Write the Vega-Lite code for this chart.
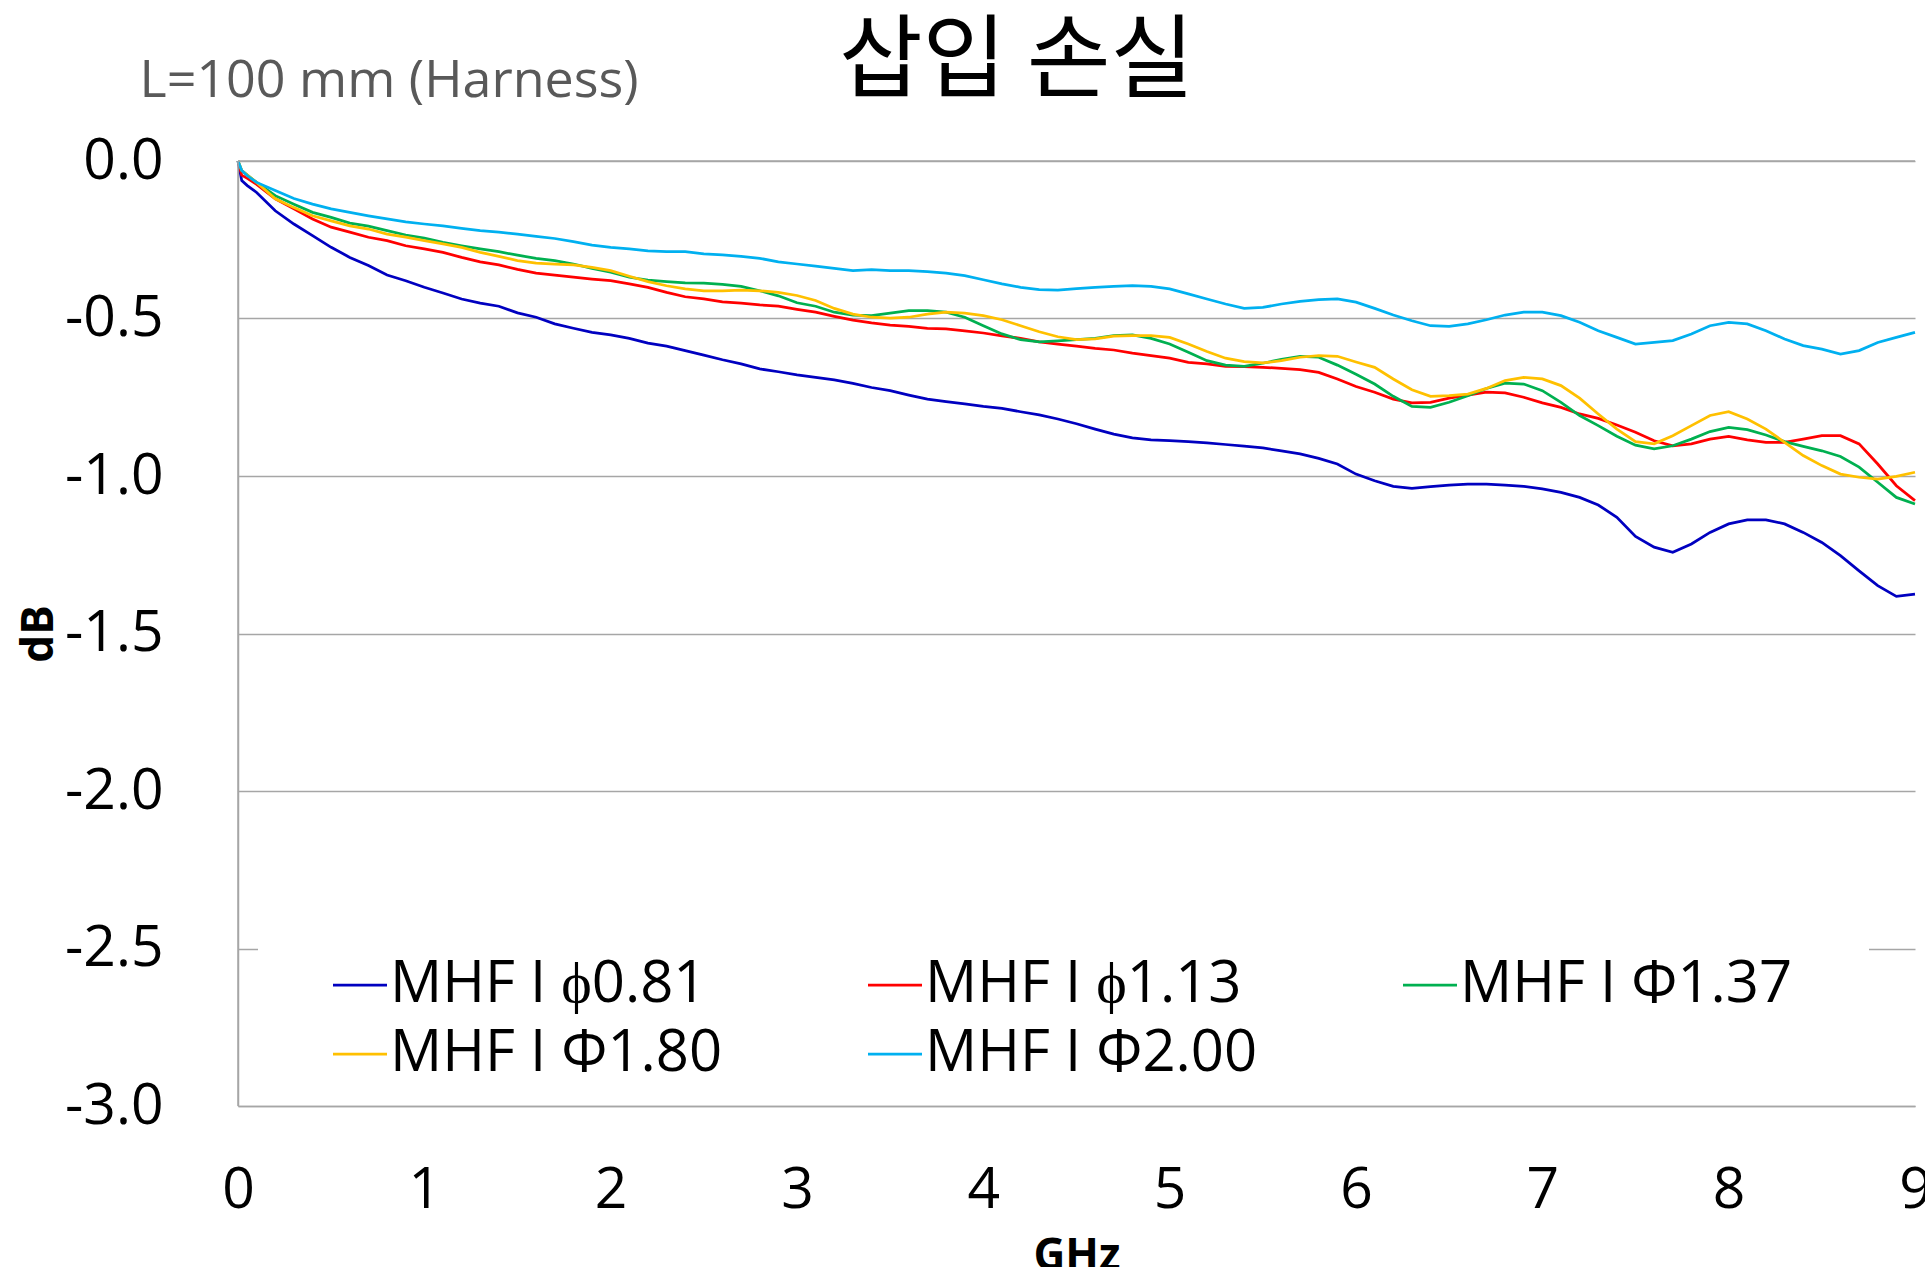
{
"$schema": "https://vega.github.io/schema/vega-lite/v6.json",
"width": 1677, "height": 945,
"autosize": {"type": "none"},
"padding": {"left": 238, "top": 161, "right": 10, "bottom": 161},
"background": "white",
"config": {"view": {"stroke": null}, "font": "Open Sans"},
"data": {"values": [
{"cable":"MHF I ϕ0.81","GHz":0,"dB":0},{"cable":"MHF I ϕ0.81","GHz":0.02,"dB":-0.062},{"cable":"MHF I ϕ0.81","GHz":0.05,"dB":-0.078},{"cable":"MHF I ϕ0.81","GHz":0.1,"dB":-0.1},{"cable":"MHF I ϕ0.81","GHz":0.2,"dB":-0.158},{"cable":"MHF I ϕ0.81","GHz":0.3,"dB":-0.2},{"cable":"MHF I ϕ0.81","GHz":0.4,"dB":-0.237},{"cable":"MHF I ϕ0.81","GHz":0.5,"dB":-0.274},{"cable":"MHF I ϕ0.81","GHz":0.6,"dB":-0.306},{"cable":"MHF I ϕ0.81","GHz":0.7,"dB":-0.332},{"cable":"MHF I ϕ0.81","GHz":0.8,"dB":-0.362},{"cable":"MHF I ϕ0.81","GHz":0.9,"dB":-0.38},{"cable":"MHF I ϕ0.81","GHz":1,"dB":-0.401},{"cable":"MHF I ϕ0.81","GHz":1.1,"dB":-0.419},{"cable":"MHF I ϕ0.81","GHz":1.2,"dB":-0.438},{"cable":"MHF I ϕ0.81","GHz":1.3,"dB":-0.451},{"cable":"MHF I ϕ0.81","GHz":1.4,"dB":-0.461},{"cable":"MHF I ϕ0.81","GHz":1.5,"dB":-0.482},{"cable":"MHF I ϕ0.81","GHz":1.6,"dB":-0.496},{"cable":"MHF I ϕ0.81","GHz":1.7,"dB":-0.517},{"cable":"MHF I ϕ0.81","GHz":1.8,"dB":-0.531},{"cable":"MHF I ϕ0.81","GHz":1.9,"dB":-0.544},{"cable":"MHF I ϕ0.81","GHz":2,"dB":-0.552},{"cable":"MHF I ϕ0.81","GHz":2.1,"dB":-0.563},{"cable":"MHF I ϕ0.81","GHz":2.2,"dB":-0.578},{"cable":"MHF I ϕ0.81","GHz":2.3,"dB":-0.588},{"cable":"MHF I ϕ0.81","GHz":2.4,"dB":-0.602},{"cable":"MHF I ϕ0.81","GHz":2.5,"dB":-0.616},{"cable":"MHF I ϕ0.81","GHz":2.6,"dB":-0.631},{"cable":"MHF I ϕ0.81","GHz":2.7,"dB":-0.644},{"cable":"MHF I ϕ0.81","GHz":2.8,"dB":-0.66},{"cable":"MHF I ϕ0.81","GHz":2.9,"dB":-0.669},{"cable":"MHF I ϕ0.81","GHz":3,"dB":-0.679},{"cable":"MHF I ϕ0.81","GHz":3.1,"dB":-0.687},{"cable":"MHF I ϕ0.81","GHz":3.2,"dB":-0.695},{"cable":"MHF I ϕ0.81","GHz":3.3,"dB":-0.706},{"cable":"MHF I ϕ0.81","GHz":3.4,"dB":-0.719},{"cable":"MHF I ϕ0.81","GHz":3.5,"dB":-0.729},{"cable":"MHF I ϕ0.81","GHz":3.6,"dB":-0.743},{"cable":"MHF I ϕ0.81","GHz":3.7,"dB":-0.756},{"cable":"MHF I ϕ0.81","GHz":3.8,"dB":-0.764},{"cable":"MHF I ϕ0.81","GHz":3.9,"dB":-0.771},{"cable":"MHF I ϕ0.81","GHz":4,"dB":-0.779},{"cable":"MHF I ϕ0.81","GHz":4.1,"dB":-0.785},{"cable":"MHF I ϕ0.81","GHz":4.2,"dB":-0.796},{"cable":"MHF I ϕ0.81","GHz":4.3,"dB":-0.806},{"cable":"MHF I ϕ0.81","GHz":4.4,"dB":-0.819},{"cable":"MHF I ϕ0.81","GHz":4.5,"dB":-0.834},{"cable":"MHF I ϕ0.81","GHz":4.6,"dB":-0.851},{"cable":"MHF I ϕ0.81","GHz":4.7,"dB":-0.867},{"cable":"MHF I ϕ0.81","GHz":4.8,"dB":-0.879},{"cable":"MHF I ϕ0.81","GHz":4.9,"dB":-0.885},{"cable":"MHF I ϕ0.81","GHz":5,"dB":-0.888},{"cable":"MHF I ϕ0.81","GHz":5.1,"dB":-0.891},{"cable":"MHF I ϕ0.81","GHz":5.2,"dB":-0.895},{"cable":"MHF I ϕ0.81","GHz":5.3,"dB":-0.9},{"cable":"MHF I ϕ0.81","GHz":5.4,"dB":-0.905},{"cable":"MHF I ϕ0.81","GHz":5.5,"dB":-0.911},{"cable":"MHF I ϕ0.81","GHz":5.6,"dB":-0.92},{"cable":"MHF I ϕ0.81","GHz":5.7,"dB":-0.93},{"cable":"MHF I ϕ0.81","GHz":5.8,"dB":-0.944},{"cable":"MHF I ϕ0.81","GHz":5.9,"dB":-0.962},{"cable":"MHF I ϕ0.81","GHz":6,"dB":-0.994},{"cable":"MHF I ϕ0.81","GHz":6.1,"dB":-1.015},{"cable":"MHF I ϕ0.81","GHz":6.2,"dB":-1.033},{"cable":"MHF I ϕ0.81","GHz":6.3,"dB":-1.039},{"cable":"MHF I ϕ0.81","GHz":6.4,"dB":-1.034},{"cable":"MHF I ϕ0.81","GHz":6.5,"dB":-1.029},{"cable":"MHF I ϕ0.81","GHz":6.6,"dB":-1.026},{"cable":"MHF I ϕ0.81","GHz":6.7,"dB":-1.026},{"cable":"MHF I ϕ0.81","GHz":6.8,"dB":-1.029},{"cable":"MHF I ϕ0.81","GHz":6.9,"dB":-1.033},{"cable":"MHF I ϕ0.81","GHz":7,"dB":-1.041},{"cable":"MHF I ϕ0.81","GHz":7.1,"dB":-1.052},{"cable":"MHF I ϕ0.81","GHz":7.2,"dB":-1.068},{"cable":"MHF I ϕ0.81","GHz":7.3,"dB":-1.092},{"cable":"MHF I ϕ0.81","GHz":7.4,"dB":-1.131},{"cable":"MHF I ϕ0.81","GHz":7.5,"dB":-1.192},{"cable":"MHF I ϕ0.81","GHz":7.6,"dB":-1.226},{"cable":"MHF I ϕ0.81","GHz":7.7,"dB":-1.242},{"cable":"MHF I ϕ0.81","GHz":7.8,"dB":-1.216},{"cable":"MHF I ϕ0.81","GHz":7.9,"dB":-1.179},{"cable":"MHF I ϕ0.81","GHz":8,"dB":-1.152},{"cable":"MHF I ϕ0.81","GHz":8.1,"dB":-1.139},{"cable":"MHF I ϕ0.81","GHz":8.2,"dB":-1.139},{"cable":"MHF I ϕ0.81","GHz":8.3,"dB":-1.152},{"cable":"MHF I ϕ0.81","GHz":8.4,"dB":-1.179},{"cable":"MHF I ϕ0.81","GHz":8.5,"dB":-1.211},{"cable":"MHF I ϕ0.81","GHz":8.6,"dB":-1.253},{"cable":"MHF I ϕ0.81","GHz":8.7,"dB":-1.301},{"cable":"MHF I ϕ0.81","GHz":8.8,"dB":-1.348},{"cable":"MHF I ϕ0.81","GHz":8.9,"dB":-1.382},{"cable":"MHF I ϕ0.81","GHz":9,"dB":-1.375},
{"cable":"MHF I ϕ1.13","GHz":0,"dB":0},{"cable":"MHF I ϕ1.13","GHz":0.02,"dB":-0.045},{"cable":"MHF I ϕ1.13","GHz":0.05,"dB":-0.055},{"cable":"MHF I ϕ1.13","GHz":0.1,"dB":-0.074},{"cable":"MHF I ϕ1.13","GHz":0.2,"dB":-0.12},{"cable":"MHF I ϕ1.13","GHz":0.3,"dB":-0.152},{"cable":"MHF I ϕ1.13","GHz":0.4,"dB":-0.184},{"cable":"MHF I ϕ1.13","GHz":0.5,"dB":-0.21},{"cable":"MHF I ϕ1.13","GHz":0.6,"dB":-0.226},{"cable":"MHF I ϕ1.13","GHz":0.7,"dB":-0.242},{"cable":"MHF I ϕ1.13","GHz":0.8,"dB":-0.253},{"cable":"MHF I ϕ1.13","GHz":0.9,"dB":-0.269},{"cable":"MHF I ϕ1.13","GHz":1,"dB":-0.279},{"cable":"MHF I ϕ1.13","GHz":1.1,"dB":-0.29},{"cable":"MHF I ϕ1.13","GHz":1.2,"dB":-0.306},{"cable":"MHF I ϕ1.13","GHz":1.3,"dB":-0.32},{"cable":"MHF I ϕ1.13","GHz":1.4,"dB":-0.33},{"cable":"MHF I ϕ1.13","GHz":1.5,"dB":-0.344},{"cable":"MHF I ϕ1.13","GHz":1.6,"dB":-0.356},{"cable":"MHF I ϕ1.13","GHz":1.7,"dB":-0.362},{"cable":"MHF I ϕ1.13","GHz":1.8,"dB":-0.369},{"cable":"MHF I ϕ1.13","GHz":1.9,"dB":-0.375},{"cable":"MHF I ϕ1.13","GHz":2,"dB":-0.38},{"cable":"MHF I ϕ1.13","GHz":2.1,"dB":-0.39},{"cable":"MHF I ϕ1.13","GHz":2.2,"dB":-0.401},{"cable":"MHF I ϕ1.13","GHz":2.3,"dB":-0.417},{"cable":"MHF I ϕ1.13","GHz":2.4,"dB":-0.431},{"cable":"MHF I ϕ1.13","GHz":2.5,"dB":-0.438},{"cable":"MHF I ϕ1.13","GHz":2.6,"dB":-0.447},{"cable":"MHF I ϕ1.13","GHz":2.7,"dB":-0.451},{"cable":"MHF I ϕ1.13","GHz":2.8,"dB":-0.457},{"cable":"MHF I ϕ1.13","GHz":2.9,"dB":-0.461},{"cable":"MHF I ϕ1.13","GHz":3,"dB":-0.471},{"cable":"MHF I ϕ1.13","GHz":3.1,"dB":-0.48},{"cable":"MHF I ϕ1.13","GHz":3.2,"dB":-0.493},{"cable":"MHF I ϕ1.13","GHz":3.3,"dB":-0.505},{"cable":"MHF I ϕ1.13","GHz":3.4,"dB":-0.514},{"cable":"MHF I ϕ1.13","GHz":3.5,"dB":-0.521},{"cable":"MHF I ϕ1.13","GHz":3.6,"dB":-0.525},{"cable":"MHF I ϕ1.13","GHz":3.7,"dB":-0.531},{"cable":"MHF I ϕ1.13","GHz":3.8,"dB":-0.533},{"cable":"MHF I ϕ1.13","GHz":3.9,"dB":-0.539},{"cable":"MHF I ϕ1.13","GHz":4,"dB":-0.546},{"cable":"MHF I ϕ1.13","GHz":4.1,"dB":-0.555},{"cable":"MHF I ϕ1.13","GHz":4.2,"dB":-0.563},{"cable":"MHF I ϕ1.13","GHz":4.3,"dB":-0.574},{"cable":"MHF I ϕ1.13","GHz":4.4,"dB":-0.581},{"cable":"MHF I ϕ1.13","GHz":4.5,"dB":-0.588},{"cable":"MHF I ϕ1.13","GHz":4.6,"dB":-0.595},{"cable":"MHF I ϕ1.13","GHz":4.7,"dB":-0.6},{"cable":"MHF I ϕ1.13","GHz":4.8,"dB":-0.61},{"cable":"MHF I ϕ1.13","GHz":4.9,"dB":-0.618},{"cable":"MHF I ϕ1.13","GHz":5,"dB":-0.626},{"cable":"MHF I ϕ1.13","GHz":5.1,"dB":-0.639},{"cable":"MHF I ϕ1.13","GHz":5.2,"dB":-0.644},{"cable":"MHF I ϕ1.13","GHz":5.3,"dB":-0.652},{"cable":"MHF I ϕ1.13","GHz":5.4,"dB":-0.653},{"cable":"MHF I ϕ1.13","GHz":5.5,"dB":-0.655},{"cable":"MHF I ϕ1.13","GHz":5.6,"dB":-0.658},{"cable":"MHF I ϕ1.13","GHz":5.7,"dB":-0.662},{"cable":"MHF I ϕ1.13","GHz":5.8,"dB":-0.671},{"cable":"MHF I ϕ1.13","GHz":5.9,"dB":-0.692},{"cable":"MHF I ϕ1.13","GHz":6,"dB":-0.716},{"cable":"MHF I ϕ1.13","GHz":6.1,"dB":-0.734},{"cable":"MHF I ϕ1.13","GHz":6.2,"dB":-0.756},{"cable":"MHF I ϕ1.13","GHz":6.3,"dB":-0.768},{"cable":"MHF I ϕ1.13","GHz":6.4,"dB":-0.766},{"cable":"MHF I ϕ1.13","GHz":6.5,"dB":-0.753},{"cable":"MHF I ϕ1.13","GHz":6.6,"dB":-0.743},{"cable":"MHF I ϕ1.13","GHz":6.7,"dB":-0.734},{"cable":"MHF I ϕ1.13","GHz":6.8,"dB":-0.736},{"cable":"MHF I ϕ1.13","GHz":6.9,"dB":-0.75},{"cable":"MHF I ϕ1.13","GHz":7,"dB":-0.768},{"cable":"MHF I ϕ1.13","GHz":7.1,"dB":-0.782},{"cable":"MHF I ϕ1.13","GHz":7.2,"dB":-0.803},{"cable":"MHF I ϕ1.13","GHz":7.3,"dB":-0.817},{"cable":"MHF I ϕ1.13","GHz":7.4,"dB":-0.838},{"cable":"MHF I ϕ1.13","GHz":7.5,"dB":-0.861},{"cable":"MHF I ϕ1.13","GHz":7.6,"dB":-0.888},{"cable":"MHF I ϕ1.13","GHz":7.7,"dB":-0.904},{"cable":"MHF I ϕ1.13","GHz":7.8,"dB":-0.898},{"cable":"MHF I ϕ1.13","GHz":7.9,"dB":-0.883},{"cable":"MHF I ϕ1.13","GHz":8,"dB":-0.874},{"cable":"MHF I ϕ1.13","GHz":8.1,"dB":-0.885},{"cable":"MHF I ϕ1.13","GHz":8.2,"dB":-0.893},{"cable":"MHF I ϕ1.13","GHz":8.3,"dB":-0.893},{"cable":"MHF I ϕ1.13","GHz":8.4,"dB":-0.883},{"cable":"MHF I ϕ1.13","GHz":8.5,"dB":-0.872},{"cable":"MHF I ϕ1.13","GHz":8.6,"dB":-0.872},{"cable":"MHF I ϕ1.13","GHz":8.7,"dB":-0.898},{"cable":"MHF I ϕ1.13","GHz":8.8,"dB":-0.962},{"cable":"MHF I ϕ1.13","GHz":8.9,"dB":-1.031},{"cable":"MHF I ϕ1.13","GHz":9,"dB":-1.078},
{"cable":"MHF I Φ1.37","GHz":0,"dB":0},{"cable":"MHF I Φ1.37","GHz":0.02,"dB":-0.03},{"cable":"MHF I Φ1.37","GHz":0.05,"dB":-0.045},{"cable":"MHF I Φ1.37","GHz":0.1,"dB":-0.068},{"cable":"MHF I Φ1.37","GHz":0.2,"dB":-0.11},{"cable":"MHF I Φ1.37","GHz":0.3,"dB":-0.137},{"cable":"MHF I Φ1.37","GHz":0.4,"dB":-0.163},{"cable":"MHF I Φ1.37","GHz":0.5,"dB":-0.179},{"cable":"MHF I Φ1.37","GHz":0.6,"dB":-0.197},{"cable":"MHF I Φ1.37","GHz":0.7,"dB":-0.207},{"cable":"MHF I Φ1.37","GHz":0.8,"dB":-0.221},{"cable":"MHF I Φ1.37","GHz":0.9,"dB":-0.235},{"cable":"MHF I Φ1.37","GHz":1,"dB":-0.245},{"cable":"MHF I Φ1.37","GHz":1.1,"dB":-0.258},{"cable":"MHF I Φ1.37","GHz":1.2,"dB":-0.269},{"cable":"MHF I Φ1.37","GHz":1.3,"dB":-0.279},{"cable":"MHF I Φ1.37","GHz":1.4,"dB":-0.288},{"cable":"MHF I Φ1.37","GHz":1.5,"dB":-0.299},{"cable":"MHF I Φ1.37","GHz":1.6,"dB":-0.309},{"cable":"MHF I Φ1.37","GHz":1.7,"dB":-0.316},{"cable":"MHF I Φ1.37","GHz":1.8,"dB":-0.327},{"cable":"MHF I Φ1.37","GHz":1.9,"dB":-0.341},{"cable":"MHF I Φ1.37","GHz":2,"dB":-0.353},{"cable":"MHF I Φ1.37","GHz":2.1,"dB":-0.369},{"cable":"MHF I Φ1.37","GHz":2.2,"dB":-0.378},{"cable":"MHF I Φ1.37","GHz":2.3,"dB":-0.383},{"cable":"MHF I Φ1.37","GHz":2.4,"dB":-0.387},{"cable":"MHF I Φ1.37","GHz":2.5,"dB":-0.388},{"cable":"MHF I Φ1.37","GHz":2.6,"dB":-0.392},{"cable":"MHF I Φ1.37","GHz":2.7,"dB":-0.398},{"cable":"MHF I Φ1.37","GHz":2.8,"dB":-0.412},{"cable":"MHF I Φ1.37","GHz":2.9,"dB":-0.428},{"cable":"MHF I Φ1.37","GHz":3,"dB":-0.45},{"cable":"MHF I Φ1.37","GHz":3.1,"dB":-0.461},{"cable":"MHF I Φ1.37","GHz":3.2,"dB":-0.48},{"cable":"MHF I Φ1.37","GHz":3.3,"dB":-0.489},{"cable":"MHF I Φ1.37","GHz":3.4,"dB":-0.491},{"cable":"MHF I Φ1.37","GHz":3.5,"dB":-0.483},{"cable":"MHF I Φ1.37","GHz":3.6,"dB":-0.475},{"cable":"MHF I Φ1.37","GHz":3.7,"dB":-0.475},{"cable":"MHF I Φ1.37","GHz":3.8,"dB":-0.48},{"cable":"MHF I Φ1.37","GHz":3.9,"dB":-0.496},{"cable":"MHF I Φ1.37","GHz":4,"dB":-0.523},{"cable":"MHF I Φ1.37","GHz":4.1,"dB":-0.549},{"cable":"MHF I Φ1.37","GHz":4.2,"dB":-0.567},{"cable":"MHF I Φ1.37","GHz":4.3,"dB":-0.574},{"cable":"MHF I Φ1.37","GHz":4.4,"dB":-0.571},{"cable":"MHF I Φ1.37","GHz":4.5,"dB":-0.567},{"cable":"MHF I Φ1.37","GHz":4.6,"dB":-0.563},{"cable":"MHF I Φ1.37","GHz":4.7,"dB":-0.554},{"cable":"MHF I Φ1.37","GHz":4.8,"dB":-0.552},{"cable":"MHF I Φ1.37","GHz":4.9,"dB":-0.563},{"cable":"MHF I Φ1.37","GHz":5,"dB":-0.581},{"cable":"MHF I Φ1.37","GHz":5.1,"dB":-0.607},{"cable":"MHF I Φ1.37","GHz":5.2,"dB":-0.634},{"cable":"MHF I Φ1.37","GHz":5.3,"dB":-0.648},{"cable":"MHF I Φ1.37","GHz":5.4,"dB":-0.652},{"cable":"MHF I Φ1.37","GHz":5.5,"dB":-0.642},{"cable":"MHF I Φ1.37","GHz":5.6,"dB":-0.63},{"cable":"MHF I Φ1.37","GHz":5.7,"dB":-0.62},{"cable":"MHF I Φ1.37","GHz":5.8,"dB":-0.623},{"cable":"MHF I Φ1.37","GHz":5.9,"dB":-0.648},{"cable":"MHF I Φ1.37","GHz":6,"dB":-0.677},{"cable":"MHF I Φ1.37","GHz":6.1,"dB":-0.708},{"cable":"MHF I Φ1.37","GHz":6.2,"dB":-0.747},{"cable":"MHF I Φ1.37","GHz":6.3,"dB":-0.779},{"cable":"MHF I Φ1.37","GHz":6.4,"dB":-0.782},{"cable":"MHF I Φ1.37","GHz":6.5,"dB":-0.766},{"cable":"MHF I Φ1.37","GHz":6.6,"dB":-0.745},{"cable":"MHF I Φ1.37","GHz":6.7,"dB":-0.722},{"cable":"MHF I Φ1.37","GHz":6.8,"dB":-0.705},{"cable":"MHF I Φ1.37","GHz":6.9,"dB":-0.708},{"cable":"MHF I Φ1.37","GHz":7,"dB":-0.729},{"cable":"MHF I Φ1.37","GHz":7.1,"dB":-0.766},{"cable":"MHF I Φ1.37","GHz":7.2,"dB":-0.808},{"cable":"MHF I Φ1.37","GHz":7.3,"dB":-0.84},{"cable":"MHF I Φ1.37","GHz":7.4,"dB":-0.874},{"cable":"MHF I Φ1.37","GHz":7.5,"dB":-0.902},{"cable":"MHF I Φ1.37","GHz":7.6,"dB":-0.914},{"cable":"MHF I Φ1.37","GHz":7.7,"dB":-0.904},{"cable":"MHF I Φ1.37","GHz":7.8,"dB":-0.883},{"cable":"MHF I Φ1.37","GHz":7.9,"dB":-0.859},{"cable":"MHF I Φ1.37","GHz":8,"dB":-0.846},{"cable":"MHF I Φ1.37","GHz":8.1,"dB":-0.853},{"cable":"MHF I Φ1.37","GHz":8.2,"dB":-0.87},{"cable":"MHF I Φ1.37","GHz":8.3,"dB":-0.891},{"cable":"MHF I Φ1.37","GHz":8.4,"dB":-0.906},{"cable":"MHF I Φ1.37","GHz":8.5,"dB":-0.92},{"cable":"MHF I Φ1.37","GHz":8.6,"dB":-0.938},{"cable":"MHF I Φ1.37","GHz":8.7,"dB":-0.972},{"cable":"MHF I Φ1.37","GHz":8.8,"dB":-1.02},{"cable":"MHF I Φ1.37","GHz":8.9,"dB":-1.068},{"cable":"MHF I Φ1.37","GHz":9,"dB":-1.089},
{"cable":"MHF I Φ1.80","GHz":0,"dB":0},{"cable":"MHF I Φ1.80","GHz":0.02,"dB":-0.03},{"cable":"MHF I Φ1.80","GHz":0.05,"dB":-0.045},{"cable":"MHF I Φ1.80","GHz":0.1,"dB":-0.068},{"cable":"MHF I Φ1.80","GHz":0.2,"dB":-0.12},{"cable":"MHF I Φ1.80","GHz":0.3,"dB":-0.148},{"cable":"MHF I Φ1.80","GHz":0.4,"dB":-0.174},{"cable":"MHF I Φ1.80","GHz":0.5,"dB":-0.19},{"cable":"MHF I Φ1.80","GHz":0.6,"dB":-0.206},{"cable":"MHF I Φ1.80","GHz":0.7,"dB":-0.216},{"cable":"MHF I Φ1.80","GHz":0.8,"dB":-0.232},{"cable":"MHF I Φ1.80","GHz":0.9,"dB":-0.242},{"cable":"MHF I Φ1.80","GHz":1,"dB":-0.253},{"cable":"MHF I Φ1.80","GHz":1.1,"dB":-0.263},{"cable":"MHF I Φ1.80","GHz":1.2,"dB":-0.274},{"cable":"MHF I Φ1.80","GHz":1.3,"dB":-0.29},{"cable":"MHF I Φ1.80","GHz":1.4,"dB":-0.303},{"cable":"MHF I Φ1.80","GHz":1.5,"dB":-0.316},{"cable":"MHF I Φ1.80","GHz":1.6,"dB":-0.324},{"cable":"MHF I Φ1.80","GHz":1.7,"dB":-0.327},{"cable":"MHF I Φ1.80","GHz":1.8,"dB":-0.33},{"cable":"MHF I Φ1.80","GHz":1.9,"dB":-0.338},{"cable":"MHF I Φ1.80","GHz":2,"dB":-0.348},{"cable":"MHF I Φ1.80","GHz":2.1,"dB":-0.366},{"cable":"MHF I Φ1.80","GHz":2.2,"dB":-0.383},{"cable":"MHF I Φ1.80","GHz":2.3,"dB":-0.396},{"cable":"MHF I Φ1.80","GHz":2.4,"dB":-0.406},{"cable":"MHF I Φ1.80","GHz":2.5,"dB":-0.412},{"cable":"MHF I Φ1.80","GHz":2.6,"dB":-0.412},{"cable":"MHF I Φ1.80","GHz":2.7,"dB":-0.41},{"cable":"MHF I Φ1.80","GHz":2.8,"dB":-0.412},{"cable":"MHF I Φ1.80","GHz":2.9,"dB":-0.417},{"cable":"MHF I Φ1.80","GHz":3,"dB":-0.427},{"cable":"MHF I Φ1.80","GHz":3.1,"dB":-0.443},{"cable":"MHF I Φ1.80","GHz":3.2,"dB":-0.468},{"cable":"MHF I Φ1.80","GHz":3.3,"dB":-0.486},{"cable":"MHF I Φ1.80","GHz":3.4,"dB":-0.496},{"cable":"MHF I Φ1.80","GHz":3.5,"dB":-0.499},{"cable":"MHF I Φ1.80","GHz":3.6,"dB":-0.496},{"cable":"MHF I Φ1.80","GHz":3.7,"dB":-0.486},{"cable":"MHF I Φ1.80","GHz":3.8,"dB":-0.48},{"cable":"MHF I Φ1.80","GHz":3.9,"dB":-0.483},{"cable":"MHF I Φ1.80","GHz":4,"dB":-0.491},{"cable":"MHF I Φ1.80","GHz":4.1,"dB":-0.504},{"cable":"MHF I Φ1.80","GHz":4.2,"dB":-0.523},{"cable":"MHF I Φ1.80","GHz":4.3,"dB":-0.542},{"cable":"MHF I Φ1.80","GHz":4.4,"dB":-0.558},{"cable":"MHF I Φ1.80","GHz":4.5,"dB":-0.567},{"cable":"MHF I Φ1.80","GHz":4.6,"dB":-0.565},{"cable":"MHF I Φ1.80","GHz":4.7,"dB":-0.556},{"cable":"MHF I Φ1.80","GHz":4.8,"dB":-0.554},{"cable":"MHF I Φ1.80","GHz":4.9,"dB":-0.554},{"cable":"MHF I Φ1.80","GHz":5,"dB":-0.56},{"cable":"MHF I Φ1.80","GHz":5.1,"dB":-0.581},{"cable":"MHF I Φ1.80","GHz":5.2,"dB":-0.605},{"cable":"MHF I Φ1.80","GHz":5.3,"dB":-0.626},{"cable":"MHF I Φ1.80","GHz":5.4,"dB":-0.637},{"cable":"MHF I Φ1.80","GHz":5.5,"dB":-0.641},{"cable":"MHF I Φ1.80","GHz":5.6,"dB":-0.634},{"cable":"MHF I Φ1.80","GHz":5.7,"dB":-0.623},{"cable":"MHF I Φ1.80","GHz":5.8,"dB":-0.618},{"cable":"MHF I Φ1.80","GHz":5.9,"dB":-0.62},{"cable":"MHF I Φ1.80","GHz":6,"dB":-0.638},{"cable":"MHF I Φ1.80","GHz":6.1,"dB":-0.655},{"cable":"MHF I Φ1.80","GHz":6.2,"dB":-0.692},{"cable":"MHF I Φ1.80","GHz":6.3,"dB":-0.726},{"cable":"MHF I Φ1.80","GHz":6.4,"dB":-0.747},{"cable":"MHF I Φ1.80","GHz":6.5,"dB":-0.745},{"cable":"MHF I Φ1.80","GHz":6.6,"dB":-0.74},{"cable":"MHF I Φ1.80","GHz":6.7,"dB":-0.722},{"cable":"MHF I Φ1.80","GHz":6.8,"dB":-0.697},{"cable":"MHF I Φ1.80","GHz":6.9,"dB":-0.687},{"cable":"MHF I Φ1.80","GHz":7,"dB":-0.692},{"cable":"MHF I Φ1.80","GHz":7.1,"dB":-0.713},{"cable":"MHF I Φ1.80","GHz":7.2,"dB":-0.753},{"cable":"MHF I Φ1.80","GHz":7.3,"dB":-0.803},{"cable":"MHF I Φ1.80","GHz":7.4,"dB":-0.851},{"cable":"MHF I Φ1.80","GHz":7.5,"dB":-0.891},{"cable":"MHF I Φ1.80","GHz":7.6,"dB":-0.898},{"cable":"MHF I Φ1.80","GHz":7.7,"dB":-0.872},{"cable":"MHF I Φ1.80","GHz":7.8,"dB":-0.84},{"cable":"MHF I Φ1.80","GHz":7.9,"dB":-0.808},{"cable":"MHF I Φ1.80","GHz":8,"dB":-0.796},{"cable":"MHF I Φ1.80","GHz":8.1,"dB":-0.819},{"cable":"MHF I Φ1.80","GHz":8.2,"dB":-0.851},{"cable":"MHF I Φ1.80","GHz":8.3,"dB":-0.893},{"cable":"MHF I Φ1.80","GHz":8.4,"dB":-0.935},{"cable":"MHF I Φ1.80","GHz":8.5,"dB":-0.967},{"cable":"MHF I Φ1.80","GHz":8.6,"dB":-0.994},{"cable":"MHF I Φ1.80","GHz":8.7,"dB":-1.004},{"cable":"MHF I Φ1.80","GHz":8.8,"dB":-1.01},{"cable":"MHF I Φ1.80","GHz":8.9,"dB":-1.001},{"cable":"MHF I Φ1.80","GHz":9,"dB":-0.988},
{"cable":"MHF I Φ2.00","GHz":0,"dB":0},{"cable":"MHF I Φ2.00","GHz":0.02,"dB":-0.03},{"cable":"MHF I Φ2.00","GHz":0.05,"dB":-0.047},{"cable":"MHF I Φ2.00","GHz":0.1,"dB":-0.068},{"cable":"MHF I Φ2.00","GHz":0.2,"dB":-0.094},{"cable":"MHF I Φ2.00","GHz":0.3,"dB":-0.119},{"cable":"MHF I Φ2.00","GHz":0.4,"dB":-0.137},{"cable":"MHF I Φ2.00","GHz":0.5,"dB":-0.152},{"cable":"MHF I Φ2.00","GHz":0.6,"dB":-0.163},{"cable":"MHF I Φ2.00","GHz":0.7,"dB":-0.174},{"cable":"MHF I Φ2.00","GHz":0.8,"dB":-0.184},{"cable":"MHF I Φ2.00","GHz":0.9,"dB":-0.193},{"cable":"MHF I Φ2.00","GHz":1,"dB":-0.2},{"cable":"MHF I Φ2.00","GHz":1.1,"dB":-0.206},{"cable":"MHF I Φ2.00","GHz":1.2,"dB":-0.214},{"cable":"MHF I Φ2.00","GHz":1.3,"dB":-0.221},{"cable":"MHF I Φ2.00","GHz":1.4,"dB":-0.226},{"cable":"MHF I Φ2.00","GHz":1.5,"dB":-0.232},{"cable":"MHF I Φ2.00","GHz":1.6,"dB":-0.239},{"cable":"MHF I Φ2.00","GHz":1.7,"dB":-0.246},{"cable":"MHF I Φ2.00","GHz":1.8,"dB":-0.256},{"cable":"MHF I Φ2.00","GHz":1.9,"dB":-0.267},{"cable":"MHF I Φ2.00","GHz":2,"dB":-0.274},{"cable":"MHF I Φ2.00","GHz":2.1,"dB":-0.279},{"cable":"MHF I Φ2.00","GHz":2.2,"dB":-0.285},{"cable":"MHF I Φ2.00","GHz":2.3,"dB":-0.288},{"cable":"MHF I Φ2.00","GHz":2.4,"dB":-0.288},{"cable":"MHF I Φ2.00","GHz":2.5,"dB":-0.295},{"cable":"MHF I Φ2.00","GHz":2.6,"dB":-0.298},{"cable":"MHF I Φ2.00","GHz":2.7,"dB":-0.303},{"cable":"MHF I Φ2.00","GHz":2.8,"dB":-0.309},{"cable":"MHF I Φ2.00","GHz":2.9,"dB":-0.32},{"cable":"MHF I Φ2.00","GHz":3,"dB":-0.327},{"cable":"MHF I Φ2.00","GHz":3.1,"dB":-0.334},{"cable":"MHF I Φ2.00","GHz":3.2,"dB":-0.341},{"cable":"MHF I Φ2.00","GHz":3.3,"dB":-0.348},{"cable":"MHF I Φ2.00","GHz":3.4,"dB":-0.345},{"cable":"MHF I Φ2.00","GHz":3.5,"dB":-0.348},{"cable":"MHF I Φ2.00","GHz":3.6,"dB":-0.348},{"cable":"MHF I Φ2.00","GHz":3.7,"dB":-0.351},{"cable":"MHF I Φ2.00","GHz":3.8,"dB":-0.356},{"cable":"MHF I Φ2.00","GHz":3.9,"dB":-0.364},{"cable":"MHF I Φ2.00","GHz":4,"dB":-0.377},{"cable":"MHF I Φ2.00","GHz":4.1,"dB":-0.39},{"cable":"MHF I Φ2.00","GHz":4.2,"dB":-0.401},{"cable":"MHF I Φ2.00","GHz":4.3,"dB":-0.408},{"cable":"MHF I Φ2.00","GHz":4.4,"dB":-0.41},{"cable":"MHF I Φ2.00","GHz":4.5,"dB":-0.405},{"cable":"MHF I Φ2.00","GHz":4.6,"dB":-0.401},{"cable":"MHF I Φ2.00","GHz":4.7,"dB":-0.398},{"cable":"MHF I Φ2.00","GHz":4.8,"dB":-0.396},{"cable":"MHF I Φ2.00","GHz":4.9,"dB":-0.398},{"cable":"MHF I Φ2.00","GHz":5,"dB":-0.406},{"cable":"MHF I Φ2.00","GHz":5.1,"dB":-0.422},{"cable":"MHF I Φ2.00","GHz":5.2,"dB":-0.438},{"cable":"MHF I Φ2.00","GHz":5.3,"dB":-0.454},{"cable":"MHF I Φ2.00","GHz":5.4,"dB":-0.468},{"cable":"MHF I Φ2.00","GHz":5.5,"dB":-0.465},{"cable":"MHF I Φ2.00","GHz":5.6,"dB":-0.454},{"cable":"MHF I Φ2.00","GHz":5.7,"dB":-0.446},{"cable":"MHF I Φ2.00","GHz":5.8,"dB":-0.44},{"cable":"MHF I Φ2.00","GHz":5.9,"dB":-0.438},{"cable":"MHF I Φ2.00","GHz":6,"dB":-0.448},{"cable":"MHF I Φ2.00","GHz":6.1,"dB":-0.468},{"cable":"MHF I Φ2.00","GHz":6.2,"dB":-0.489},{"cable":"MHF I Φ2.00","GHz":6.3,"dB":-0.507},{"cable":"MHF I Φ2.00","GHz":6.4,"dB":-0.523},{"cable":"MHF I Φ2.00","GHz":6.5,"dB":-0.525},{"cable":"MHF I Φ2.00","GHz":6.6,"dB":-0.517},{"cable":"MHF I Φ2.00","GHz":6.7,"dB":-0.504},{"cable":"MHF I Φ2.00","GHz":6.8,"dB":-0.489},{"cable":"MHF I Φ2.00","GHz":6.9,"dB":-0.48},{"cable":"MHF I Φ2.00","GHz":7,"dB":-0.48},{"cable":"MHF I Φ2.00","GHz":7.1,"dB":-0.491},{"cable":"MHF I Φ2.00","GHz":7.2,"dB":-0.512},{"cable":"MHF I Φ2.00","GHz":7.3,"dB":-0.539},{"cable":"MHF I Φ2.00","GHz":7.4,"dB":-0.56},{"cable":"MHF I Φ2.00","GHz":7.5,"dB":-0.581},{"cable":"MHF I Φ2.00","GHz":7.6,"dB":-0.576},{"cable":"MHF I Φ2.00","GHz":7.7,"dB":-0.57},{"cable":"MHF I Φ2.00","GHz":7.8,"dB":-0.549},{"cable":"MHF I Φ2.00","GHz":7.9,"dB":-0.523},{"cable":"MHF I Φ2.00","GHz":8,"dB":-0.512},{"cable":"MHF I Φ2.00","GHz":8.1,"dB":-0.517},{"cable":"MHF I Φ2.00","GHz":8.2,"dB":-0.539},{"cable":"MHF I Φ2.00","GHz":8.3,"dB":-0.565},{"cable":"MHF I Φ2.00","GHz":8.4,"dB":-0.586},{"cable":"MHF I Φ2.00","GHz":8.5,"dB":-0.597},{"cable":"MHF I Φ2.00","GHz":8.6,"dB":-0.613},{"cable":"MHF I Φ2.00","GHz":8.7,"dB":-0.602},{"cable":"MHF I Φ2.00","GHz":8.8,"dB":-0.576},{"cable":"MHF I Φ2.00","GHz":8.9,"dB":-0.56},{"cable":"MHF I Φ2.00","GHz":9,"dB":-0.544}
]},
"layer": [
{
"mark": {"type": "line", "strokeWidth": 2.75},
"encoding": {
"x": {"field": "GHz", "type": "quantitative",
"scale": {"domain": [0, 9], "nice": false, "zero": false},
"axis": {"orient": "bottom", "values": [0,1,2,3,4,5,6,7,8,9], "format": "d", "title": "GHz",
"titleFont": "Open Sans", "titleFontSize": 44, "titleFontWeight": "bold", "titleColor": "black", "titlePadding": 16,
"labelFont": "Open Sans", "labelFontSize": 57, "labelColor": "black", "labelPadding": 56, "labelFlush": false, "labelOverlap": false,
"ticks": false, "grid": false, "domainColor": "#A6A6A6", "domainWidth": 1.5}},
"y": {"field": "dB", "type": "quantitative",
"scale": {"domain": [-3, 0], "nice": false, "zero": false},
"axis": {"values": [-3,-2.5,-2,-1.5,-1,-0.5,0], "labelExpr": "datum.value == 0 ? '0.0' : '-' + format(-datum.value, '.1f')",
"title": "dB", "titleFont": "Open Sans", "titleFontSize": 44, "titleFontWeight": "bold", "titleColor": "black", "titlePadding": 3,
"labelFont": "Open Sans", "labelFontSize": 57, "labelColor": "black", "labelPadding": 75, "labelBaseline": "middle",
"ticks": false, "grid": true, "gridColor": "#A6A6A6", "gridWidth": 1.5, "domainColor": "#A6A6A6", "domainWidth": 1.5}},
"color": {"field": "cable", "type": "nominal",
"scale": {"domain": ["MHF I ϕ0.81","MHF I ϕ1.13","MHF I Φ1.37","MHF I Φ1.80","MHF I Φ2.00"], "range": ["#0000C0","#FF0000","#00B050","#FFC000","#00B0F0"]},
"legend": {"orient": "none", "legendX": 20, "legendY": 786, "columns": 3, "direction": "horizontal", "gridAlign": "all",
"title": " ", "titleOrient": "right", "titleFontSize": 8, "titlePadding": 68,
"symbolType": "stroke", "symbolSize": 2916, "symbolStrokeWidth": 2.75, "symbolOffset": 64,
"labelFont": "Open Sans", "labelFontSize": 58, "labelColor": "black", "labelOffset": 1, "labelLimit": 0,
"rowPadding": 11, "columnPadding": 79, "padding": 9, "fillColor": "white", "strokeColor": null}}
}
},
{
"data": {"values": [{}]},
"mark": {"type": "rule", "color": "#A6A6A6", "strokeWidth": 1.5},
"encoding": {"x": {"datum": 0, "type": "quantitative",
"axis": {"orient": "top", "labels": false, "ticks": false, "domain": false, "grid": false,
"title": "삽입 손실", "titleFont": "Noto Sans CJK KR", "titleFontSize": 91, "titleFontWeight": "normal", "titleColor": "black",
"titleX": 778, "titleY": -72, "titleAlign": "center", "titleBaseline": "alphabetic", "titleAngle": 0}}}
},
{
"data": {"values": [{}]},
"mark": {"type": "rule", "color": "#A6A6A6", "strokeWidth": 1.5},
"encoding": {"y": {"datum": 0, "type": "quantitative",
"axis": {"orient": "left", "labels": false, "ticks": false, "domain": false, "grid": false,
"title": "L=100 mm (Harness)", "titleFont": "Open Sans", "titleFontSize": 52, "titleFontWeight": "normal", "titleColor": "#595959",
"titleX": -99, "titleY": -65, "titleAlign": "left", "titleBaseline": "alphabetic", "titleAngle": 0}}}
}
],
"resolve": {"axis": {"x": "independent", "y": "independent"}}
}
